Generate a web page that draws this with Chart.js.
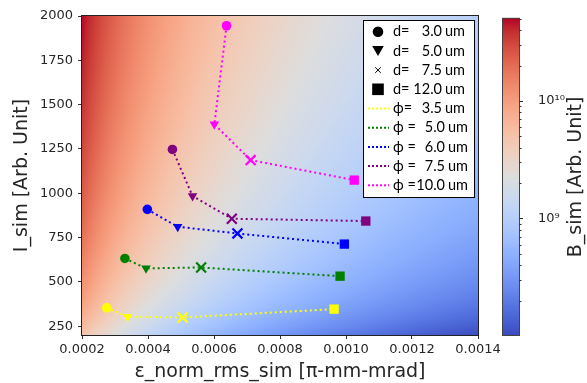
<!DOCTYPE html>
<html><head><meta charset="utf-8">
<script src="https://cdn.jsdelivr.net/npm/chart.js@4.4.1/dist/chart.umd.min.js"></script>
<style>
html,body{margin:0;padding:0;background:#fff;overflow:hidden}
#wrap{position:relative;width:587px;height:383px}
#main{position:absolute;left:0;top:0}
#cb{position:absolute;left:480px;top:0}
</style></head><body>
<div id="wrap">
<canvas id="main" width="587" height="383"></canvas>
<canvas id="cb" width="107" height="383"></canvas>
</div>
<script>
// ---------- data ----------
const dLabels = ['3.0', '5.0', '7.5', '12.0'];
const phiLabels = ['3.5', '5.0', '6.0', '7.5', '10.0'];
const seriesColors = ['#ffff00', '#008000', '#0000ff', '#800080', '#ff00ff'];
const eps_phi35 = [0.000275, 0.000338, 0.000505, 0.000964];
const I_phi35   = [353, 303, 299, 346];
const eps_phi50 = [0.000330, 0.000394, 0.000561, 0.000982];
const I_phi50   = [632, 576, 581, 532];
const eps_phi60 = [0.000398, 0.000490, 0.000671, 0.000995];
const I_phi60   = [909, 811, 773, 713];
const eps_phi75 = [0.000474, 0.000535, 0.000654, 0.001060];
const I_phi75   = [1247, 984, 856, 843];
const eps_phi100 = [0.000638, 0.000601, 0.000711, 0.001025];
const I_phi100   = [1945, 1389, 1187, 1074];
const xTicks = [0.0002, 0.0004, 0.0006, 0.0008, 0.0010, 0.0012, 0.0014];
const yTicks = [250, 500, 750, 1000, 1250, 1500, 1750, 2000];
const cbMin = 1.02e8, cbMax = 5.0e10;
const cbMajor = [1e9, 1e10];
const cbLabels = ['10\u2079', '10\u00B9\u2070'];
const cbMinor = [2e8,3e8,4e8,5e8,6e8,7e8,8e8,9e8,2e9,3e9,4e9,5e9,6e9,7e9,8e9,9e9,2e10,3e10,4e10,5e10];

const epsSeries = [eps_phi35, eps_phi50, eps_phi60, eps_phi75, eps_phi100];
const ISeries = [I_phi35, I_phi50, I_phi60, I_phi75, I_phi100];

// ---------- coolwarm ----------
const CW = [[59,76,192],[68,90,204],[77,104,215],[87,117,225],[98,130,234],[108,142,241],[119,154,247],[130,165,251],[141,176,254],[152,185,255],[163,194,255],[174,201,253],[184,208,249],[194,213,244],[204,217,238],[213,219,230],[221,221,221],[229,216,209],[236,211,197],[241,204,185],[245,196,173],[247,187,160],[247,177,148],[247,166,135],[244,154,123],[241,141,111],[236,127,99],[229,112,88],[222,96,77],[213,80,66],[203,62,56],[192,40,47],[180,4,38]];
function coolwarm(t){
  t = Math.max(0, Math.min(1, t));
  const f = t * 32; const i = Math.min(31, Math.floor(f)); const r = f - i;
  const a = CW[i], b = CW[i+1];
  return [a[0]+(b[0]-a[0])*r, a[1]+(b[1]-a[1])*r, a[2]+(b[2]-a[2])*r];
}
const LMIN = Math.log10(cbMin), LMAX = Math.log10(cbMax);

const FONT = "'DejaVu Sans', sans-serif";
const TXT = '#262626';

// ---------- plugins ----------
const heatmap = {
  id: 'heatmap',
  beforeDatasetsDraw(chart){
    const {ctx, chartArea: a, scales: {x, y}} = chart;
    const w = Math.round(a.right - a.left), h = Math.round(a.bottom - a.top);
    if (!chart.$bg) {
      const off = document.createElement('canvas'); off.width = w; off.height = h;
      const octx = off.getContext('2d'); const img = octx.createImageData(w, h);
      for (let j = 0; j < h; j++) {
        const I = y.getValueForPixel(a.top + j + 0.5);
        for (let i = 0; i < w; i++) {
          const e = x.getValueForPixel(a.left + i + 0.5);
          const B = I / (e * e);
          const c = coolwarm((Math.log10(B) - LMIN) / (LMAX - LMIN));
          const k = (j * w + i) * 4;
          img.data[k] = c[0]; img.data[k+1] = c[1]; img.data[k+2] = c[2]; img.data[k+3] = 255;
        }
      }
      octx.putImageData(img, 0, 0); chart.$bg = off;
    }
    ctx.drawImage(chart.$bg, a.left, a.top, a.right - a.left, a.bottom - a.top);
    ctx.save();
    ctx.strokeStyle = '#222'; ctx.lineWidth = 1;
    ctx.strokeRect(a.left - 0.5, a.top - 0.5, a.right - a.left + 1, a.bottom - a.top + 1);
    ctx.restore();
  }
};

const legendBox = {
  id: 'legendBox',
  afterDraw(chart){
    const ctx = chart.ctx;
    const L = 363, T = 20, R = 475, Bt = 198;
    ctx.save();
    ctx.fillStyle = '#fff'; ctx.fillRect(L, T, R - L, Bt - T);
    ctx.strokeStyle = '#000'; ctx.lineWidth = 1; ctx.strokeRect(L + 0.5, T + 0.5, R - L - 1, Bt - T - 1);
    const mx = 378, rowH = 19.2, y0 = 31.7;
    ctx.font = "14.5px Lato, 'Open Sans', sans-serif";
    ctx.textBaseline = 'middle';
    const rows = [];
    dLabels.forEach((d, i) => rows.push({kind: 'd', idx: i, pre: 'd=', num: d}));
    phiLabels.forEach((p, i) => rows.push({kind: 'p', idx: i, pre: i === 0 ? '\u03D5=' : '\u03D5 =', num: p}));
    rows.forEach((r, k) => {
      const yy = y0 + k * rowH;
      ctx.fillStyle = '#000'; ctx.strokeStyle = '#000';
      if (r.kind === 'd') {
        ctx.beginPath();
        if (r.idx === 0) { ctx.arc(mx, yy, 5.3, 0, Math.PI * 2); ctx.fill(); }
        else if (r.idx === 1) { ctx.moveTo(mx - 5.8, yy - 5); ctx.lineTo(mx + 5.8, yy - 5); ctx.lineTo(mx, yy + 5); ctx.closePath(); ctx.fill(); }
        else if (r.idx === 2) { ctx.lineWidth = 1; ctx.moveTo(mx - 2.8, yy - 2.8); ctx.lineTo(mx + 2.8, yy + 2.8); ctx.moveTo(mx + 2.8, yy - 2.8); ctx.lineTo(mx - 2.8, yy + 2.8); ctx.stroke(); }
        else { ctx.fillRect(mx - 5.8, yy - 5.8, 11.6, 11.6); }
      } else {
        ctx.beginPath(); ctx.setLineDash([2, 2]); ctx.lineWidth = 2; ctx.strokeStyle = seriesColors[r.idx];
        ctx.moveTo(368, yy); ctx.lineTo(389, yy); ctx.stroke(); ctx.setLineDash([]);
      }
      ctx.fillStyle = '#000';
      const shift = (r.kind === 'p' && r.idx > 0) ? 3 : 0;
      ctx.textAlign = 'left'; ctx.fillText(r.pre, 393, yy);
      ctx.textAlign = 'right'; ctx.fillText(r.num, 442 + shift, yy);
      ctx.textAlign = 'left'; ctx.fillText('um', 445 + shift, yy);
    });
    ctx.restore();
  }
};

const cbBar = {
  id: 'cbBar',
  beforeDatasetsDraw(chart){
    const {ctx, chartArea: a, scales: {y}} = chart;
    ctx.save();
    for (let j = Math.floor(a.top); j < Math.ceil(a.bottom); j++) {
      const v = y.getValueForPixel(j + 0.5);
      const c = coolwarm((Math.log10(v) - LMIN) / (LMAX - LMIN));
      ctx.fillStyle = `rgb(${c[0]|0},${c[1]|0},${c[2]|0})`;
      ctx.fillRect(a.left, j, a.right - a.left, 1);
    }
    ctx.strokeStyle = '#444'; ctx.lineWidth = 1;
    ctx.strokeRect(a.left - 0.5, a.top - 0.5, a.right - a.left + 1, a.bottom - a.top + 1);
    ctx.strokeStyle = '#333';
    ctx.beginPath();
    cbMajor.forEach(v => { const p = Math.round(y.getPixelForValue(v)) + 0.5; ctx.moveTo(a.right, p); ctx.lineTo(a.right + 4, p); });
    cbMinor.forEach(v => { const p = Math.round(y.getPixelForValue(v)) + 0.5; ctx.moveTo(a.right, p); ctx.lineTo(a.right + 2.5, p); });
    ctx.stroke();
    // colorbar label (reads bottom to top)
    ctx.translate(96, (a.top + a.bottom) / 2);
    ctx.rotate(-Math.PI / 2);
    ctx.fillStyle = TXT; ctx.font = `19px ${FONT}`;
    ctx.textAlign = 'center'; ctx.textBaseline = 'middle';
    ctx.fillText('B_sim [Arb. Unit]', 0, 0);
    ctx.restore();
  }
};

// ---------- main chart ----------
const datasets = phiLabels.map((p, s) => ({
  label: '\u03D5 = ' + p + ' um',
  data: epsSeries[s].map((e, i) => ({x: e, y: ISeries[s][i]})),
  showLine: true,
  borderColor: seriesColors[s],
  borderWidth: 2,
  borderDash: [2, 3],
  pointStyle: ['circle', 'triangle', 'crossRot', 'rect'],
  pointRotation: [0, 180, 0, 0],
  pointRadius: [4.8, 5.5, 7, 6.6],
  pointBackgroundColor: seriesColors[s],
  pointBorderColor: seriesColors[s],
  pointBorderWidth: [0, 0, 2.2, 0]
}));

new Chart(document.getElementById('main'), {
  type: 'scatter',
  data: {datasets},
  options: {
    responsive: false, animation: false, events: [],
    layout: {padding: {left: 0, right: 109, top: 16, bottom: 0}},
    plugins: {legend: {display: false}, tooltip: {enabled: false}},
    scales: {
      x: {
        type: 'linear', min: 0.0002, max: 0.0014,
        afterBuildTicks: s => { s.ticks = xTicks.map(v => ({value: v})); },
        afterFit: s => { s.height = 48; },
        grid: {drawOnChartArea: false, tickLength: 4, tickColor: '#333', tickWidth: 1},
        border: {display: false},
        ticks: {padding: 3, color: TXT, font: {family: FONT, size: 13}, autoSkip: false, maxRotation: 0, callback: v => Number(v).toFixed(4)},
        title: {display: true, text: '\u03B5_norm_rms_sim [\u03C0-mm-mrad]', color: TXT, font: {family: FONT, size: 19}, padding: {top: 0, bottom: 0}}
      },
      y: {
        type: 'linear', min: 200, max: 2000,
        afterBuildTicks: s => { s.ticks = yTicks.map(v => ({value: v})); },
        afterFit: s => { s.width = 82; },
        grid: {drawOnChartArea: false, tickLength: 4, tickColor: '#333', tickWidth: 1},
        border: {display: false},
        ticks: {padding: 5, color: TXT, font: {family: FONT, size: 13}, autoSkip: false, callback: v => String(v)},
        title: {display: true, text: 'I_sim [Arb. Unit]', color: TXT, font: {family: FONT, size: 19}, padding: {top: 11, bottom: 0}}
      }
    }
  },
  plugins: [heatmap, legendBox]
});

// ---------- colorbar chart ----------
new Chart(document.getElementById('cb'), {
  type: 'scatter',
  data: {datasets: []},
  options: {
    responsive: false, animation: false, events: [],
    layout: {padding: {left: 23, right: 0, top: 16, bottom: 48}},
    plugins: {legend: {display: false}, tooltip: {enabled: false}},
    scales: {
      x: {display: false, min: 0, max: 1},
      y: {
        type: 'logarithmic', position: 'right', min: cbMin, max: cbMax,
        afterBuildTicks: s => { s.ticks = cbMajor.map(v => ({value: v})); },
        afterFit: s => { s.width = 68; },
        grid: {display: false}, border: {display: false},
        ticks: {padding: 11, color: TXT, font: {family: FONT, size: 13}, autoSkip: false,
          callback: (v) => { const i = cbMajor.indexOf(v); return i >= 0 ? cbLabels[i] : ''; }}
      }
    }
  },
  plugins: [cbBar]
});
</script>
</body></html>
